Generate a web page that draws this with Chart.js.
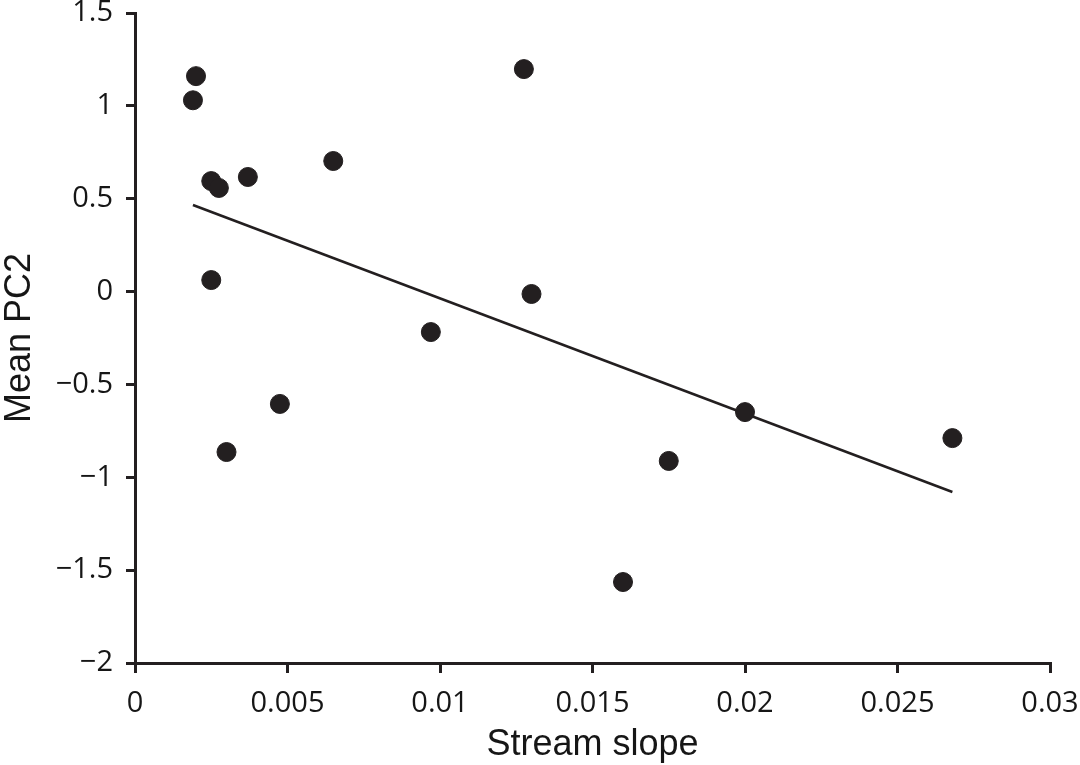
<!DOCTYPE html>
<html>
<head>
<meta charset="utf-8">
<script src="https://cdn.jsdelivr.net/npm/chart.js@4/dist/chart.umd.min.js"></script>
<style>
  html, body { margin: 0; padding: 0; background: #fff; }
  #wrap { width: 1080px; height: 765px; }
</style>
</head>
<body>
<div id="wrap"><canvas id="slopeChart" width="1080" height="765"></canvas></div>
<script>
// stream slope vs mean PC2
var slopes = [0.0019, 0.0020, 0.0025, 0.00275, 0.0037, 0.0065, 0.0025, 0.00475, 0.0030, 0.0097, 0.01275, 0.0130, 0.0160, 0.0175, 0.0200, 0.0268];
var pc2 = [1.03, 1.16, 0.595, 0.558, 0.617, 0.703, 0.062, -0.605, -0.864, -0.218, 1.198, -0.013, -1.564, -0.912, -0.649, -0.789];

// fitted line end points
var fitX = [0.0019, 0.0268];
var fitY = [0.466, -1.079];

var xTicks = [0, 0.005, 0.01, 0.015, 0.02, 0.025, 0.03];
var yTicks = [-2, -1.5, -1, -0.5, 0, 0.5, 1, 1.5];

function toPoints(xs, ys) {
    'use strict';
    var pts = [];
    for (var i = 0; i < xs.length; i++) {
        pts.push({x: xs[i], y: ys[i]});
    }
    return pts;
}

function fmt(v) {
    'use strict';
    return String(v).replace('-', '\u2212');
}

var ink = '#231f20';
var txt = '#161616';
var tickFont = {family: '"Open Sans", "Noto Sans", sans-serif', size: 29, lineHeight: 1.0};
var titleFont = {family: '"Liberation Sans", Arial, sans-serif', size: 36, lineHeight: 1.1};

var ctx = document.getElementById('slopeChart');

var myScatter = new Chart(ctx, {
    type: 'scatter',
    data: {
        datasets: [
            {
                label: 'Sites',
                data: toPoints(slopes, pc2),
                backgroundColor: ink,
                borderColor: ink,
                pointRadius: 9.5,
                pointHoverRadius: 9.5
            },
            {
                label: 'Fit',
                data: toPoints(fitX, fitY),
                showLine: true,
                borderColor: ink,
                borderWidth: 2.5,
                pointRadius: 0,
                fill: false
            }
        ]
    },
    options: {
        responsive: false,
        animation: false,
        layout: {
            padding: {top: 13, right: 30, left: 0, bottom: 0}
        },
        plugins: {
            legend: {display: false},
            tooltip: {enabled: false}
        },
        scales: {
            x: {
                type: 'linear',
                min: 0,
                max: 0.03,
                afterBuildTicks: function (scale) {
                    scale.ticks = xTicks.map(function (v) { return {value: v}; });
                },
                afterFit: function (scale) {
                    scale.height = 102;
                    scale.paddingLeft = 0;
                    scale.paddingRight = 0;
                },
                ticks: {
                    color: txt,
                    font: tickFont,
                    padding: 16,
                    maxRotation: 0,
                    callback: function (v) { return fmt(v); }
                },
                grid: {
                    drawOnChartArea: false,
                    drawTicks: true,
                    tickLength: 10,
                    color: ink,
                    lineWidth: 3
                },
                border: {display: true, color: ink, width: 3},
                title: {
                    display: true,
                    text: 'Stream slope',
                    color: txt,
                    font: titleFont,
                    padding: {top: 0, bottom: 0}
                }
            },
            y: {
                type: 'linear',
                min: -2,
                max: 1.5,
                afterBuildTicks: function (scale) {
                    scale.ticks = yTicks.map(function (v) { return {value: v}; });
                },
                afterFit: function (scale) {
                    scale.width = 135;
                    scale.paddingTop = 0;
                    scale.paddingBottom = 0;
                },
                ticks: {
                    color: txt,
                    font: tickFont,
                    padding: 13,
                    callback: function (v) { return fmt(v); }
                },
                grid: {
                    drawOnChartArea: false,
                    drawTicks: true,
                    tickLength: 9,
                    color: ink,
                    lineWidth: 3
                },
                border: {display: true, color: ink, width: 3},
                title: {
                    display: true,
                    text: 'Mean PC2',
                    color: txt,
                    font: titleFont,
                    padding: {top: 0, bottom: 0}
                }
            }
        }
    }
});
</script>
</body>
</html>
